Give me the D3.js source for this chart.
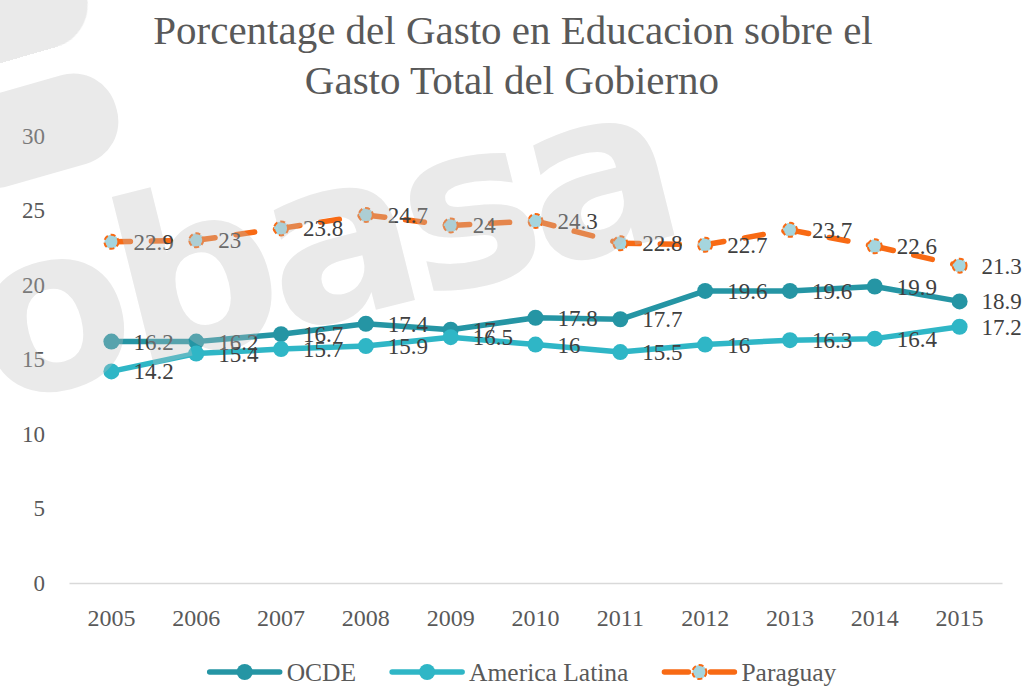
<!DOCTYPE html>
<html>
<head>
<meta charset="utf-8">
<script src="https://cdn.jsdelivr.net/npm/d3@7"></script>
<style>
  body { margin: 0; background: #fff; }
  text { font-family: "Palatino Linotype", "Book Antiqua", Palatino, "Liberation Serif", serif; }
</style>
</head>
<body>
<script>
var years = ['2005','2006','2007','2008','2009','2010','2011','2012','2013','2014','2015'];
var ocde = [16.2, 16.2, 16.7, 17.4, 17, 17.8, 17.7, 19.6, 19.6, 19.9, 18.9];
var americaLatina = [14.2, 15.4, 15.7, 15.9, 16.5, 16, 15.5, 16, 16.3, 16.4, 17.2];
var paraguay = [22.9, 23, 23.8, 24.7, 24, 24.3, 22.8, 22.7, 23.7, 22.6, 21.3];
var yTicks = [0, 5, 10, 15, 20, 25, 30];
var seriesNames = ['OCDE', 'America Latina', 'Paraguay'];

var width = 1027, height = 686;

var svg = d3.select('body').append('svg')
    .attr('width', width)
    .attr('height', height);

var x = d3.scaleBand().domain(years).range([69, 1002]);
var y = d3.scaleLinear().domain([0, 30]).range([583, 136]);
function cx(i) { return x(years[i]) + x.bandwidth() / 2; }

// title
svg.append('text')
    .attr('x', 513).attr('y', 44)
    .attr('text-anchor', 'middle')
    .attr('fill', '#595959')
    .style('font-size', '41px')
    .text('Porcentage del Gasto en Educacion sobre el');
svg.append('text')
    .attr('x', 512).attr('y', 94)
    .attr('text-anchor', 'middle')
    .attr('fill', '#595959')
    .style('font-size', '41px')
    .text('Gasto Total del Gobierno');

// y axis labels only, no gridlines
var yAxis = d3.axisLeft(y).tickValues(yTicks).tickSize(0).tickPadding(0);
var yg = svg.append('g').attr('transform', 'translate(45,0)').call(yAxis);
yg.select('.domain').remove();
yg.selectAll('text')
    .attr('fill', '#595959')
    .style('font-size', '23px')
    .style('font-family', null);

// x axis
var xAxis = d3.axisBottom(x).tickSize(0).tickPadding(26);
var xg = svg.append('g').attr('transform', 'translate(0,' + y(0) + ')').call(xAxis);
xg.select('.domain').attr('stroke', '#d9d9d9').attr('stroke-width', 1.5);
xg.selectAll('text')
    .attr('fill', '#595959')
    .style('font-size', '24px')
    .style('font-family', null);

var series = [
  {name: seriesNames[0], values: ocde, color: '#2595a4', fill: '#2595a4', dashed: false},
  {name: seriesNames[1], values: americaLatina, color: '#2fb6c6', fill: '#2fb6c6', dashed: false},
  {name: seriesNames[2], values: paraguay, color: '#f86a14', fill: '#a5d5de', dashed: true}
];

var line = d3.line()
    .x(function(d, i) { return cx(i); })
    .y(function(d) { return y(d); });

series.forEach(function(s) {
  var g = svg.append('g');
  if (s.dashed) {
    // dash pattern restarts at every point like the original
    var segs = d3.pairs(s.values.map(function(v, i) { return [cx(i), y(v)]; }));
    g.selectAll('line.seg')
      .data(segs)
      .enter()
        .append('line')
        .attr('x1', function(d) { return d[0][0]; })
        .attr('y1', function(d) { return d[0][1]; })
        .attr('x2', function(d) { return d[1][0]; })
        .attr('y2', function(d) { return d[1][1]; })
        .attr('stroke', s.color)
        .attr('stroke-width', 5.5)
        .attr('stroke-linecap', 'round')
        .attr('stroke-dasharray', '19,21');
  } else {
    g.append('path')
      .datum(s.values)
      .attr('d', line)
      .attr('fill', 'none')
      .attr('stroke', s.color)
      .attr('stroke-width', 5.5)
      .attr('stroke-linejoin', 'round');
  }
  g.selectAll('circle')
    .data(s.values)
    .enter()
      .append('circle')
      .attr('cx', function(d, i) { return cx(i); })
      .attr('cy', function(d) { return y(d); })
      .attr('r', s.dashed ? 7 : 8)
      .attr('fill', s.fill)
      .attr('stroke', s.dashed ? s.color : 'none')
      .attr('stroke-width', 2)
      .attr('stroke-dasharray', s.dashed ? '5,3' : null);
});

// data labels
series.forEach(function(s) {
  svg.append('g').selectAll('text')
    .data(s.values)
    .enter()
      .append('text')
      .attr('x', function(d, i) { return cx(i) + 22; })
      .attr('y', function(d) { return y(d); })
      .attr('dy', '0.35em')
      .attr('fill', '#404040')
      .style('font-size', '23px')
      .text(function(d) { return d; });
});

// legend
var legend = svg.append('g');
var lx = 0;
series.forEach(function(s) {
  var item = legend.append('g').attr('transform', 'translate(' + lx + ',0)');
  item.append('line')
    .attr('x1', 0).attr('x2', 70).attr('y1', 672).attr('y2', 672)
    .attr('stroke', s.color).attr('stroke-width', 5.5)
    .attr('stroke-dasharray', s.dashed ? '24,22' : null)
    .attr('stroke-linecap', 'round');
  item.append('circle')
    .attr('cx', 35).attr('cy', 672).attr('r', s.dashed ? 7 : 8)
    .attr('fill', s.fill)
    .attr('stroke', s.dashed ? s.color : 'none')
    .attr('stroke-width', 2)
    .attr('stroke-dasharray', s.dashed ? '5,3' : null);
  var t = item.append('text')
    .attr('x', 77).attr('y', 672).attr('dy', '0.35em')
    .attr('fill', '#595959')
    .style('font-size', '25.5px')
    .text(s.name);
  lx += 77 + t.node().getComputedTextLength() + 36;
});
lx -= 36;
legend.attr('transform', 'translate(' + (523 - lx / 2) + ',0)');

// watermark on top, semi transparent
var wm = svg.append('g').attr('fill', 'rgb(191,191,191)').attr('opacity', 0.33);
wm.append('text')
    .attr('transform', 'translate(-6,405) rotate(-14)')
    .style('font-family', '"DejaVu Sans", sans-serif')
    .style('font-weight', 'bold')
    .style('font-size', '228px')
    .style('letter-spacing', '-11px')
    .text('obasa');
wm.append('rect')
    .attr('transform', 'translate(-60,110) rotate(-16)')
    .attr('width', 170).attr('height', 92).attr('rx', 44);
wm.append('rect')
    .attr('transform', 'translate(-92,-4) rotate(-16)')
    .attr('width', 172).attr('height', 90).attr('rx', 44);
</script>
</body>
</html>
